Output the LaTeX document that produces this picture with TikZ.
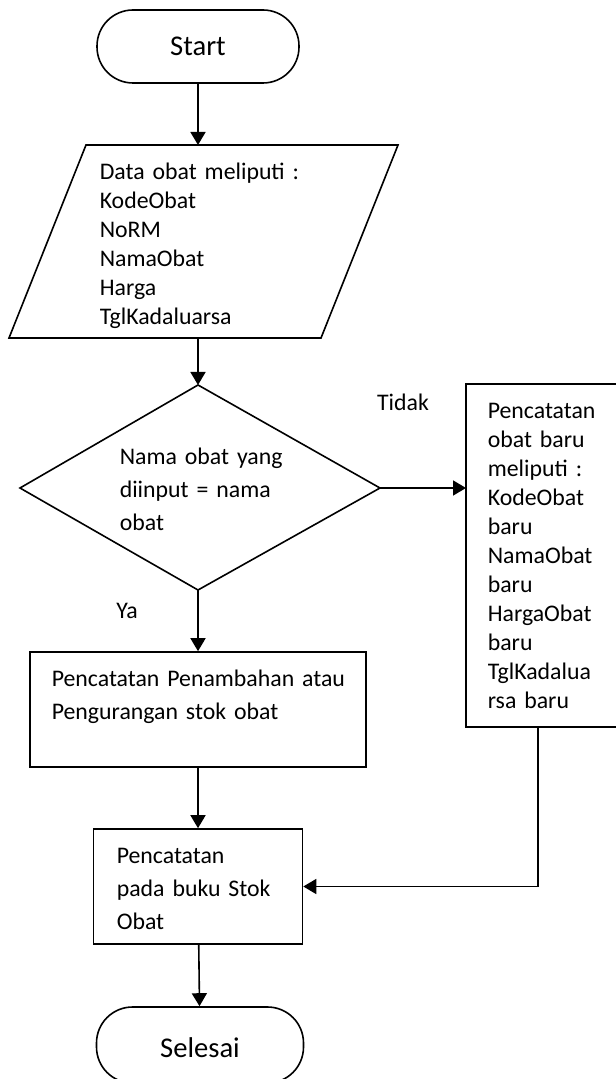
\documentclass[tikz,border=0pt]{standalone}
\usepackage{fontspec}
\setmainfont{Carlito}
\usetikzlibrary{arrows.meta}
\begin{document}
\begin{tikzpicture}[x=0.5pt,y=-0.5pt,line width=0.8pt,
    proc/.style={draw,rectangle,inner sep=0pt},
    term/.style={draw,rectangle,rounded corners=18pt,inner sep=0pt,font=\fontsize{14.3}{17}\selectfont},
    txt/.style={inner sep=0pt,align=left,anchor=base west,font=\fontsize{11.9}{14.5}\selectfont},
    wide/.style={txt,font=\fontsize{11.9}{16.6}\selectfont},
    arr/.style={-{Triangle[length=6.5pt,width=7.5pt]}}]
    \useasboundingbox (0,0) rectangle (615,1079);

    % terminals
    \node[term,minimum width=101pt,minimum height=36.5pt] (start) at (198,46.5) {Start};
    \node[term,minimum width=103.5pt,minimum height=38pt] (selesai) at (200,1045) {};
    \node[font=\fontsize{14.3}{17}\selectfont] (t-selesai) at (200,1048) {Selesai};

    % input data
    \draw (86,145) -- (398,145) -- (321,338) -- (9,338) -- cycle;
        \coordinate (d-top) at (198,145);
        \coordinate (d-bot) at (198,338);
    \node[txt,text width=150pt] (t-data) at (99,180)
        {Data obat meliputi :\\KodeObat\\NoRM\\NamaObat\\Harga\\TglKadaluarsa};

    % decision
    \draw (198,385) -- (380,488) -- (198,590) -- (20,488) -- cycle;
        \coordinate (q-top) at (198,385);
        \coordinate (q-right) at (380,488);
        \coordinate (q-bot) at (198,590);
    \node[wide,text width=130pt] (t-nama) at (119,464)
        {Nama obat yang\\diinput = nama\\obat};

    % processes
    \node[proc,minimum width=168pt,minimum height=57.5pt] (box1) at (198,709.5) {};
    \node[wide,text width=160pt] (t-box1) at (51,686)
        {Pencatatan Penambahan atau\\Pengurangan stok obat};
    \node[proc,minimum width=104.5pt,minimum height=57.5pt] (box2) at (198,886.5) {};
    \node[wide,text width=90pt] (t-box2) at (116,863)
        {Pencatatan\\pada buku Stok\\Obat};
    \node[proc,minimum width=87pt,minimum height=171.5pt] (baru) at (553,555.5) {};
        \coordinate (baru-in) at (466,488);
        \coordinate (baru-out) at (538,727);
    \node[txt,text width=70pt] (t-baru) at (487,418)
        {Pencatatan\\obat baru\\meliputi :\\KodeObat\\baru\\NamaObat\\baru\\HargaObat\\baru\\TglKadalua\\rsa baru};

    % labels
    \node[font=\fontsize{11.9}{14.5}\selectfont] (tidak) at (403,402) {Tidak};
    \node[font=\fontsize{11.9}{14.5}\selectfont] (ya) at (127,611) {Ya};

    % connectors
    \draw[arr] (start) -- (d-top);
    \draw[arr] (d-bot) -- (q-top);
    \draw[arr] (q-right) -- (baru-in);
    \draw[arr] (q-bot) -- (box1.north);
    \draw[arr] (box1) -- (box2);
    \draw[arr] (baru-out) |- (box2.east);
    \draw[arr] (box2) -- (selesai);
\end{tikzpicture}
\end{document}
